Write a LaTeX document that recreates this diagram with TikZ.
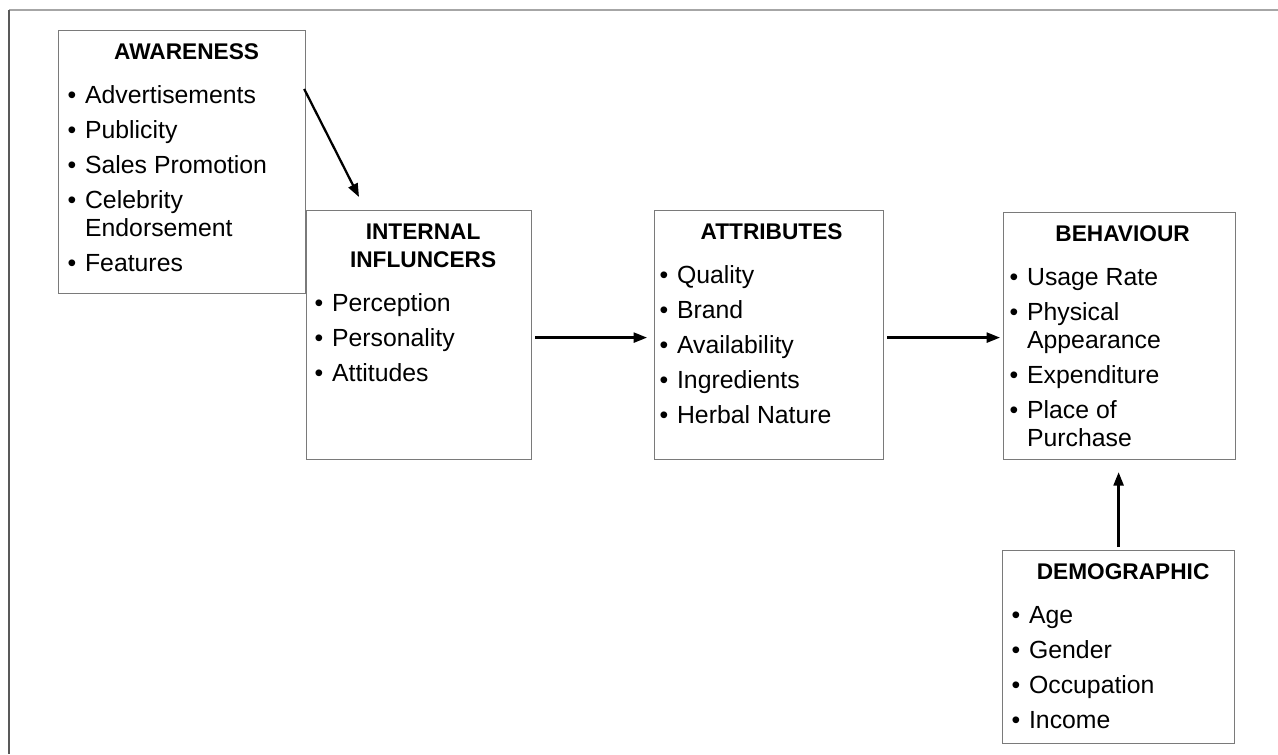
\documentclass[tikz,border=0pt]{standalone}
\usepackage{fontspec}
\setmainfont{Liberation Sans}
\usetikzlibrary{arrows.meta}

\newlength\pxu \setlength\pxu{0.75pt}
\newlength\bulletw \setlength\bulletw{17.5\pxu}
% #1 left pad, #2 width, #3 height, #4 content (all in px)
\newcommand{\boxtext}[4]{\hspace*{#1\pxu}\parbox[t][#3\pxu][t]{\dimexpr#2\pxu-#1\pxu\relax}{\fontsize{18.6pt}{21pt}\selectfont#4}}
\newcommand{\heading}[1]{{\centering\fontsize{17pt}{21pt}\bfseries\selectfont\rule{0pt}{21.75pt}#1\par}\vspace{6.75pt}}
\newcommand{\point}[1]{\par\vspace{5.25pt}\noindent\hangindent=\bulletw\hangafter=1\makebox[\bulletw][l]{\textbullet}#1\par}

\begin{document}
\begin{tikzpicture}
  [x=0.75pt,y=-0.75pt,stagebox/.style={draw=black!52,line width=0.9pt,inner sep=0pt,anchor=north west}]

  \tikzset{
  flow/.style = {-{Triangle[length=10pt,width=7.5pt]},line width=1.7pt}
  }

  \useasboundingbox (0,0) rectangle (1278,754);

  % frame
  \draw[black!35,line width=1.5pt] (9,10) -- (1278,10);
  \draw[black!65,line width=1.5pt] (9,10) -- (9,754);

  \node[stagebox] (aware) at (58,30)
    {\boxtext{9}{247}{263}{\heading{AWARENESS}\point{Advertisements}\point{Publicity}\point{Sales Promotion}\point{Celebrity\\Endorsement}\point{Features}}};
  \node[stagebox] (internal) at (306,210)
    {\boxtext{8}{225}{249}{\heading{INTERNAL\\INFLUNCERS}\point{Perception}\point{Personality}\point{Attitudes}}};
  \node[stagebox] (attrib) at (654,210)
    {\boxtext{5}{229}{249}{\heading{ATTRIBUTES}\point{Quality}\point{Brand}\point{Availability}\point{Ingredients}\point{Herbal Nature}}};
  \node[stagebox] (behav) at (1003,212)
    {\boxtext{6}{232}{247}{\heading{BEHAVIOUR}\point{Usage Rate}\point{Physical\\Appearance}\point{Expenditure}\point{Place of\\Purchase}}};
  \node[stagebox] (demog) at (1002,550)
    {\boxtext{9}{232}{193}{\heading{DEMOGRAPHIC}\point{Age}\point{Gender}\point{Occupation}\point{Income}}};

  \draw[flow] ([shift={(-2,59)}]aware.north east) -- ([shift={(53,-13)}]internal.north west);
  \draw[flow] ([shift={(3,2.5)}]internal.east) -- ([shift={(-7,2.5)}]attrib.west);
  \draw[flow] ([shift={(3,2.5)}]attrib.east) -- ([shift={(-3,1.5)}]behav.west);
  \draw[flow] ([shift={(0,-3)}]demog.north) -- ([shift={(-1,12)}]behav.south);

\end{tikzpicture}
\end{document}
